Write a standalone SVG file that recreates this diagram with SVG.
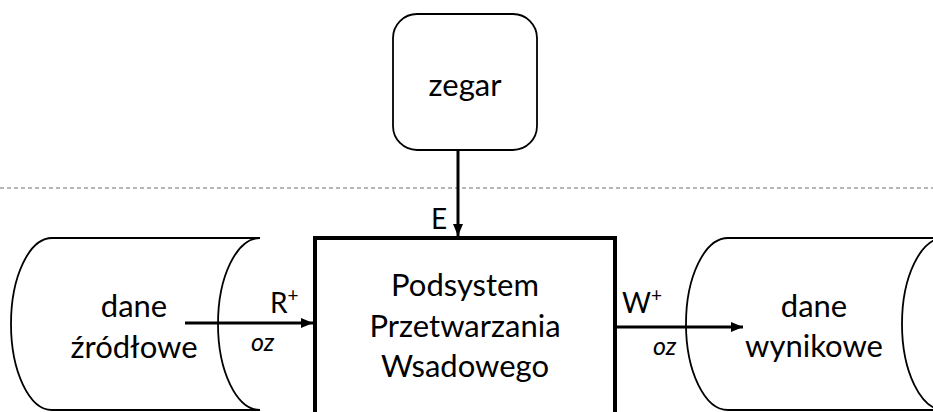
<svg xmlns="http://www.w3.org/2000/svg" width="933" height="412" viewBox="0 0 933 412">
<defs>
<marker id="ah" viewBox="0 0 12 10" refX="12" refY="5" markerWidth="12" markerHeight="10" markerUnits="userSpaceOnUse" orient="auto">
<path d="M0,0 L12,5 L0,10 Z" fill="#000"/>
</marker>
<style>
text{font-family:Lato,"Open Sans","Liberation Sans",sans-serif;fill:#000;}
.big{font-size:31px;text-anchor:middle;}
.lbl{font-size:28px;}
.sup{font-size:19px;}
.oz{font-size:25px;font-style:italic;}
.cyl{fill:#fff;stroke:#000;stroke-width:1.8;}
.conn{stroke:#000;stroke-width:3;fill:none;}
</style>
</defs>
<rect width="933" height="412" fill="#fff"/>
<line x1="0" y1="188" x2="933" y2="188" stroke="#6e6e6e" stroke-width="1" stroke-dasharray="4 3"/>
<g id="zegar">
<rect x="393" y="14" width="144" height="136" rx="24" ry="24" fill="#fff" stroke="#000" stroke-width="1.8"/>
<text class="big" x="465" y="96">zegar</text>
</g>
<g id="dane-zrodlowe">
<path class="cyl" d="M260,238 L52,238 A41,86 0 0 0 52,410 L260,410"/>
<path class="cyl" d="M260,238 A42,86 0 0 0 260,410" fill="none"/>
<text class="big" x="134" y="317">dane</text>
<text class="big" x="134" y="358">źródłowe</text>
</g>
<g id="dane-wynikowe">
<path class="cyl" d="M944,238 L728,238 A42,86 0 0 0 728,410 L944,410"/>
<path class="cyl" d="M944,238 A42,86 0 0 0 944,410" fill="none"/>
<text class="big" x="814" y="317">dane</text>
<text class="big" x="814" y="357">wynikowe</text>
</g>
<g id="podsystem">
<rect x="315" y="238" width="300" height="190" fill="#fff" stroke="#000" stroke-width="4"/>
<text class="big" x="465" y="296">Podsystem</text>
<text class="big" x="465" y="337">Przetwarzania</text>
<text class="big" x="465" y="377">Wsadowego</text>
</g>
<g id="connectors">
<line class="conn" x1="458" y1="150" x2="458" y2="236" marker-end="url(#ah)"/>
<line class="conn" x1="185" y1="323" x2="313" y2="323" marker-end="url(#ah)"/>
<line class="conn" x1="617" y1="327" x2="743" y2="327" marker-end="url(#ah)"/>
<text class="lbl" x="431" y="229">E</text>
<text class="lbl" x="270" y="313">R<tspan class="sup" dy="-11">+</tspan></text>
<text class="oz" x="251" y="351">oz</text>
<text class="lbl" x="622" y="313">W<tspan class="sup" dy="-11">+</tspan></text>
<text class="oz" x="653" y="355">oz</text>
</g>
</svg>
